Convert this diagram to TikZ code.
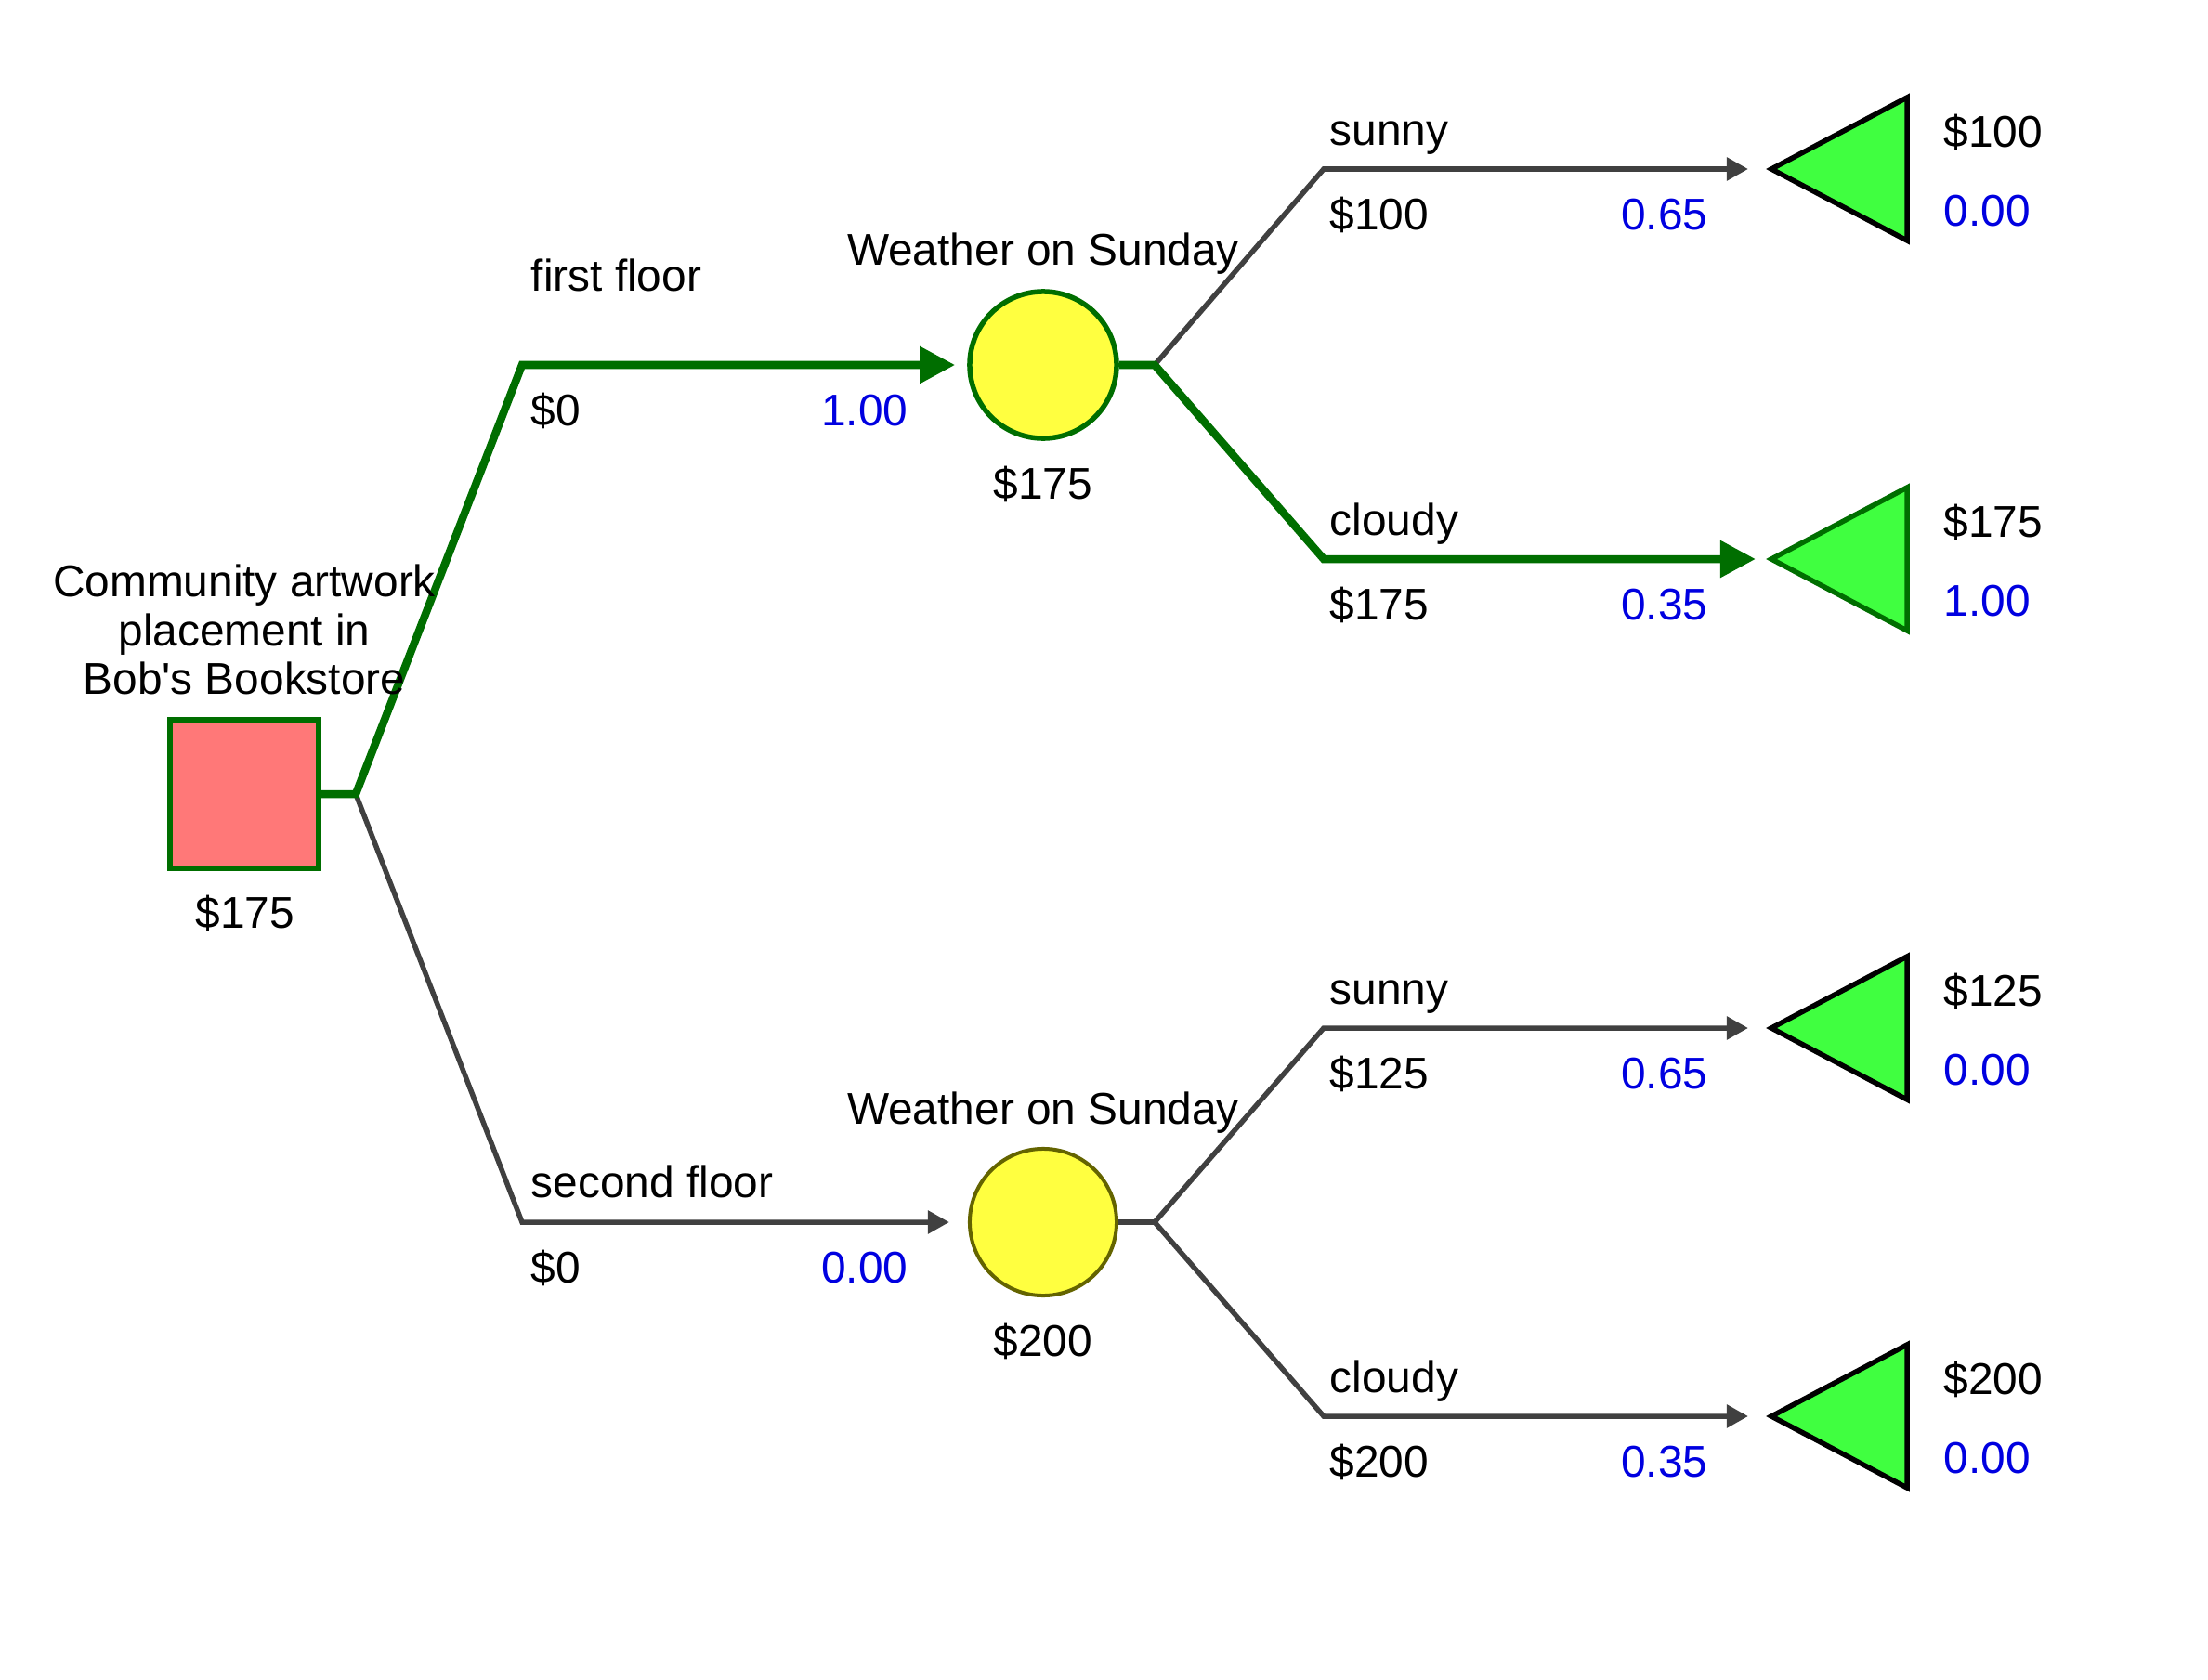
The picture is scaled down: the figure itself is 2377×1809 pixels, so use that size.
\documentclass[tikz,border=0pt]{standalone}
\usepackage{fontspec}
\setmainfont{Liberation Sans}
\usetikzlibrary{arrows.meta, positioning}

\definecolor{pathgreen}{RGB}{0,110,0}
\definecolor{edgegray}{RGB}{64,64,64}
\definecolor{probblue}{RGB}{0,0,224}
\definecolor{deciderred}{RGB}{255,120,120}
\definecolor{chanceyellow}{RGB}{255,255,64}
\definecolor{endgreen}{RGB}{64,255,64}
\definecolor{chanceolive}{RGB}{100,100,0}

\tikzset{
  lbl/.style={font=\fontsize{13.6pt}{15pt}\selectfont, inner sep=0pt,
    text height=0.34cm, text depth=0pt},
  prob/.style={lbl, text=probblue},
  best/.style={draw=pathgreen, line width=0.085cm},
  other/.style={draw=edgegray, line width=0.055cm},
  besttip/.style={-{Triangle[length=0.38cm,width=0.38cm]}},
  othertip/.style={-{Triangle[length=0.23cm,width=0.24cm]}},
  decision/.style={rectangle, draw=pathgreen, fill=deciderred,
    line width=0.055cm, minimum size=1.6cm, inner sep=0pt},
  chance/.style={circle, fill=chanceyellow, line width=0.055cm,
    minimum size=1.58cm, inner sep=0pt},
}

\begin{document}
\begin{tikzpicture}[x=0.01cm, y=-0.01cm]
  \useasboundingbox (0,0) rectangle (2377,1809);

  % nodes and corners
  \node[decision] (dec) at (263,855) {};
  \node[chance, draw=pathgreen] (wtop) at (1123,393) {};
  \node[chance, draw=chanceolive, line width=0.04cm] (wbot) at (1123,1316) {};
  \coordinate (rootj) at (383,855);
  \coordinate (ffcorner) at (562,393);
  \coordinate (sfcorner) at (562,1316);
  \coordinate (jtop) at (1243,393);
  \coordinate (jbot) at (1243,1316);
  \coordinate (sunnytop) at (1425,182);
  \coordinate (cloudytop) at (1425,602);
  \coordinate (sunnybot) at (1425,1107);
  \coordinate (cloudybot) at (1425,1525);

  % end points
  \foreach \y/\name/\col in {182/tsunA/black, 602/tcloA/pathgreen,
                             1107/tsunB/black, 1525/tcloB/black}
    \draw[draw=\col, fill=endgreen, line width=0.055cm]
      (1907,\y) coordinate (\name) -- ++(146,-77) -- ++(0,154) -- cycle;

  % gray branches
  \draw[other, othertip, shorten >=0.2cm] (rootj) -- (sfcorner) -- (wbot);
  \draw[other, othertip, shorten >=0.25cm] (jtop) -- (sunnytop) -- (tsunA);
  \draw[other] (wbot) -- (jbot);
  \draw[other, othertip, shorten >=0.25cm] (jbot) -- (sunnybot) -- (tsunB);
  \draw[other, othertip, shorten >=0.25cm] (jbot) -- (cloudybot) -- (tcloB);

  % green best path
  \draw[best, besttip, shorten >=0.13cm] (dec.east) -- (rootj) -- (ffcorner) -- (wtop);
  \draw[best, besttip, shorten >=0.17cm] (wtop) -- (jtop) -- (cloudytop) -- (tcloA);

  % labels
  \node[lbl, align=center, text height=, text depth=] (decname) at (263,678)
    {Community artwork\\placement in\\Bob\textquotesingle s Bookstore};
  \node[lbl] (decval) at (264,982) {\$175};

  \node[lbl, anchor=west] (ffname) at (571,296) {first floor};
  \node[lbl, anchor=west] (ffpay) at (571,441) {\$0};
  \node[prob, anchor=east] (ffprob) at (978,441) {1.00};
  \node[lbl, anchor=west] (sfname) at (571,1272) {second floor};
  \node[lbl, anchor=west] (sfpay) at (571,1364) {\$0};
  \node[prob, anchor=east] (sfprob) at (978,1364) {0.00};

  \node[lbl] (wtopname) at (1123,268) {Weather on Sunday};
  \node[lbl] (wtopval) at (1123,520) {\$175};
  \node[lbl] (wbotname) at (1123,1193) {Weather on Sunday};
  \node[lbl] (wbotval) at (1123,1443) {\$200};

  \foreach \y/\name/\pay/\pr in {182/sunny/100/0.65, 602/cloudy/175/0.35,
                                 1107/sunny/125/0.65, 1525/cloudy/200/0.35} {
    \node[lbl, anchor=west] at (1431,\y-43) {\name};
    \node[lbl, anchor=west] at (1431,\y+48) {\$\pay};
    \node[prob, anchor=east] at (1839,\y+48) {\pr};
  }

  \foreach \y/\pay/\pr in {182/100/0.00, 602/175/1.00,
                           1107/125/0.00, 1525/200/0.00} {
    \node[lbl, anchor=west] at (2092,\y-41) {\$\pay};
    \node[prob, anchor=west] at (2092,\y+44) {\pr};
  }
\end{tikzpicture}
\end{document}
